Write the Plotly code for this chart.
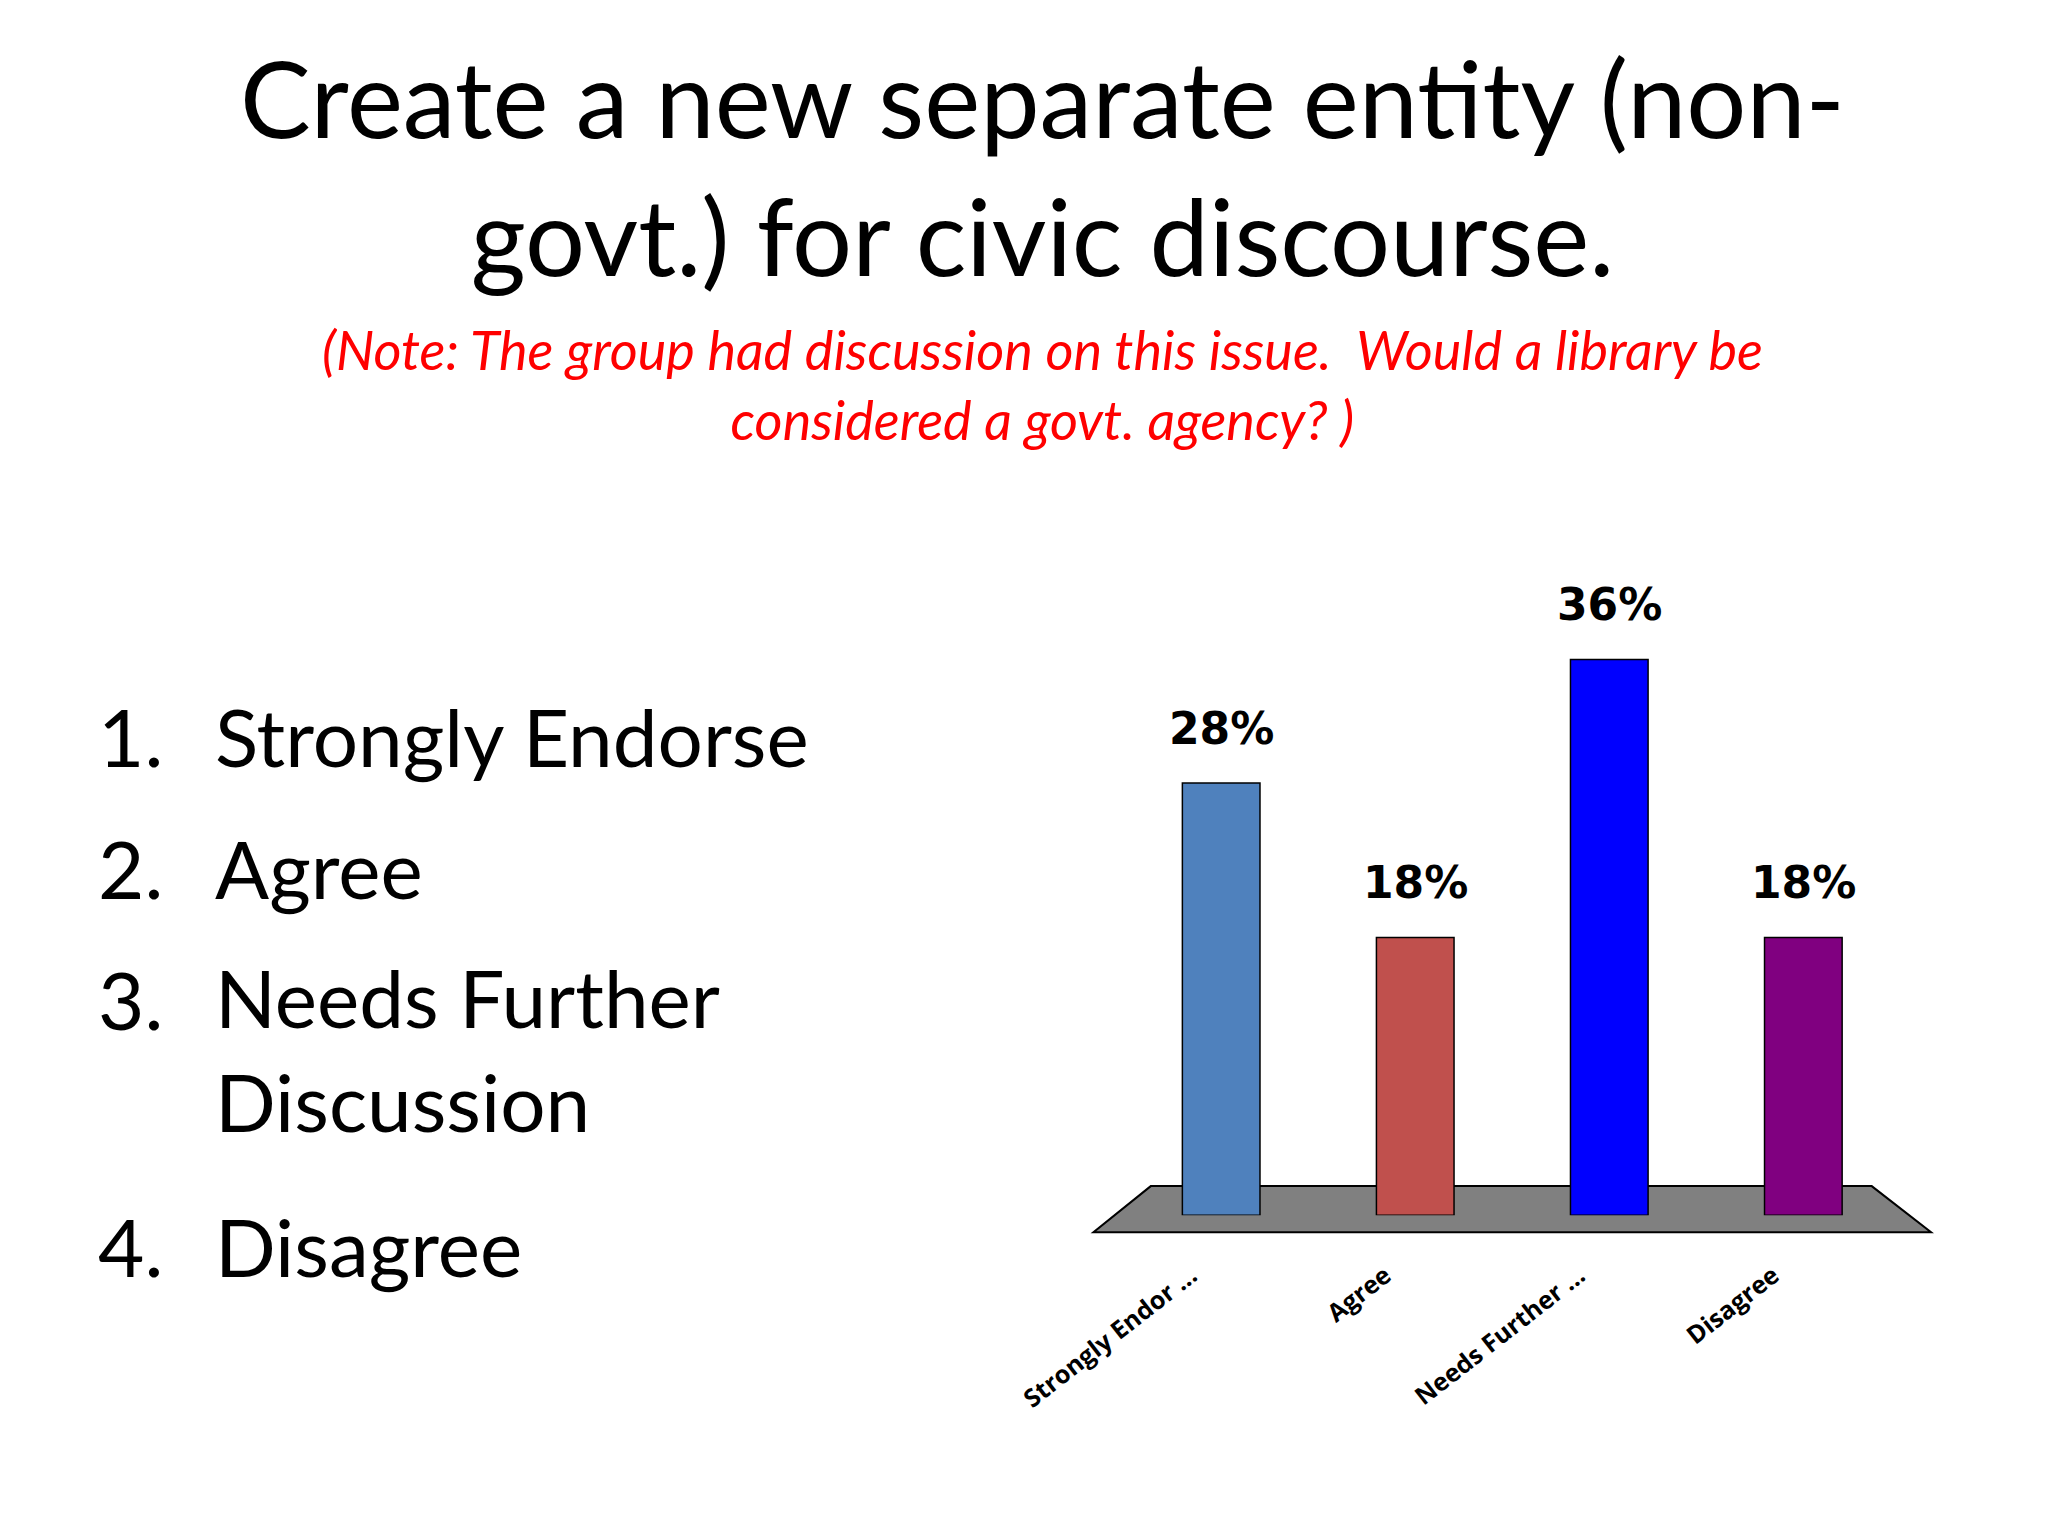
import plotly.graph_objects as go

categories = ["Strongly Endor ...", "Agree", "Needs Further ...", "Disagree"]
values = [28, 18, 36, 18]
labels = ["28%", "18%", "36%", "18%"]
colors = ["#4F81BD", "#C0504D", "#0000FF", "#800080"]
list_items = ["Strongly Endorse", "Agree", "Needs Further<br>Discussion", "Disagree"]

fig = go.Figure(go.Bar(
    x=categories, y=values, width=0.4,
    marker=dict(color=colors, line=dict(color="black", width=1.5)),
))

for c, v, t in zip(categories, values, labels):
    fig.add_annotation(x=c, y=v, text=t, showarrow=False, yanchor="middle", yshift=55,
                       font=dict(family="DejaVu Sans", size=44, color="black", weight="bold"))

fig.update_layout(
    width=2048, height=1536, paper_bgcolor="white", plot_bgcolor="rgba(0,0,0,0)",
    margin=dict(l=0, r=0, t=0, b=0), showlegend=False,
    xaxis=dict(domain=[0.545, 0.924], range=[-0.5, 3.5], showgrid=False, showline=False,
               automargin=False,
               tickangle=-38, tickfont=dict(family="Open Sans", size=25, color="black", weight="bold"),
               ticklabelstandoff=40, ticklabelshift=-30, ticks=""),
    yaxis=dict(domain=[0.214, 0.616], range=[0, 40], visible=False, automargin=False),
    shapes=[dict(type="path", xref="paper", yref="paper", layer="below",
                 path="M 0.558 0.233 L 0.910 0.233 L 0.939 0.203 L 0.530 0.203 Z",
                 fillcolor="#808080", line=dict(color="black", width=2))],
)

fig.add_annotation(text="Create a new separate entity (non-<br>govt.) for civic discourse.",
                   xref="paper", yref="paper", x=0.505, y=0.985, xanchor="center", yanchor="top",
                   showarrow=False, font=dict(family="Lato", size=106, color="black"))
fig.add_annotation(text="<i>(Note: The group had discussion on this issue.  Would a library be<br>considered a govt. agency? )</i>",
                   xref="paper", yref="paper", x=0.505, y=0.80, xanchor="center", yanchor="top",
                   showarrow=False, font=dict(family="Lato", size=54, color="red"))

ys = [0.526, 0.44, 0.355, 0.194]
for i, (item, y) in enumerate(zip(list_items, ys)):
    fig.add_annotation(text=f"{i+1}.", xref="paper", yref="paper", x=0.043, y=y,
                       xanchor="left", yanchor="middle", showarrow=False,
                       font=dict(family="Lato", size=80, color="black"))
    fig.add_annotation(text=item, xref="paper", yref="paper", x=0.100, y=y,
                       xanchor="left", yanchor="top" if "<br>" in item else "middle",
                       yshift=52 if "<br>" in item else 0, align="left", showarrow=False,
                       font=dict(family="Lato", size=80, color="black"))

fig.write_html("out.html")
